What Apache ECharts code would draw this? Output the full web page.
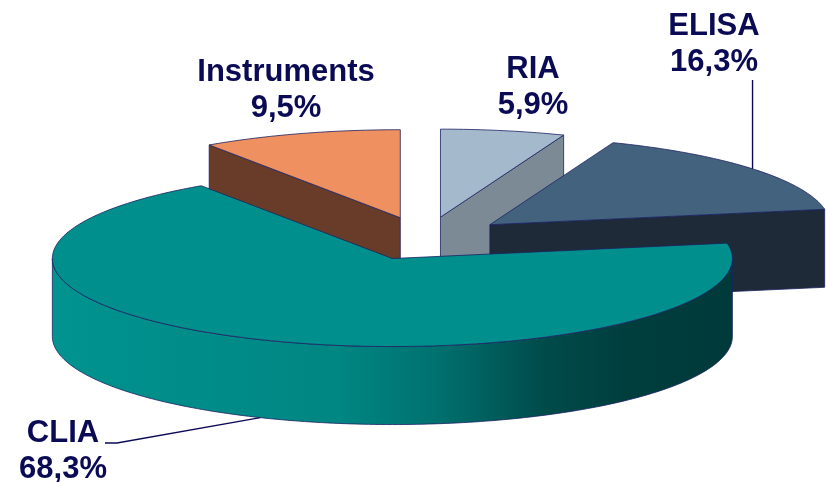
<!DOCTYPE html>
<html><head><meta charset="utf-8">
<script src="https://cdn.jsdelivr.net/npm/echarts@6/dist/echarts.min.js"></script>
<style>html,body{margin:0;padding:0;background:#fff}#c{width:826px;height:482px}</style>
</head><body><div id="c"></div>
<script>
// ---- data ----
const categories = ['RIA', 'ELISA', 'CLIA', 'Instruments'];
const values = [5.9, 16.3, 68.3, 9.5];
const valueLabels = ['5,9%', '16,3%', '68,3%', '9,5%'];

// ---- styles / layout ----
const topColors = ['#A4B9CC', '#42627E', '#008F8C', '#EE9060'];
const sideColors = ['#7B8A95', '#1E2A37', '#008F8C', '#683C28'];
const layerZ = [10, 20, 30, 0];
const labelAnchor = [[533, 69], [714, 26], [63, 433], [286, 72]];
const LINE_GAP = 36.5;
const CX = 425, CY = 238.5, RX = 340, RY = 88, H = 78, EXPLODE = 84;
const TEXT_COLOR = '#0B0B55';
const EDGE = '#1c2262';

const chart = echarts.init(document.getElementById('c'), null, {renderer: 'canvas'});
const RAD = Math.PI / 180;
function pt(cx, cy, deg) { return [cx + RX * Math.sin(deg * RAD), cy - RY * Math.cos(deg * RAD)]; }
function arc(cx, cy, a, b) {
  const n = Math.max(2, Math.ceil(Math.abs(b - a)));
  const pts = [];
  for (let t = 0; t <= n; t++) pts.push(pt(cx, cy, a + (b - a) * t / n));
  return pts;
}

function renderItem(params, api) {
  const i = params.dataIndex;
  const total = values.reduce((a, b) => a + b, 0);
  let start = 0;
  for (let j = 0; j < i; j++) start += values[j] / total * 360;
  const end = start + api.value(0) / total * 360;
  const mid = (start + end) / 2;
  const cx = CX + EXPLODE * Math.sin(mid * RAD);
  const cy = CY - EXPLODE * (RY / RX) * Math.cos(mid * RAD);
  const z = layerZ[i];
  const children = [];
  const edgeStyle = {stroke: EDGE, lineWidth: 0.8};

  // outer curved wall (front half)
  const wa = Math.max(start, 90), wb = Math.min(end, 270);
  if (wb > wa) {
    const top = arc(cx, cy, wa, wb);
    const bot = arc(cx, cy + H, wb, wa);
    children.push({
      type: 'polygon', z2: z + 1,
      shape: {points: top.concat(bot)},
      style: Object.assign({
        fill: {
          type: 'linear', x: 0, y: 0, x2: 1, y2: 0,
          colorStops: [
            {offset: 0, color: '#00938F'},
            {offset: 0.42, color: '#008683'},
            {offset: 0.56, color: '#007270'},
            {offset: 0.72, color: '#004C4B'},
            {offset: 0.85, color: '#003D3D'},
            {offset: 1, color: '#003A3A'}
          ]
        }
      }, edgeStyle)
    });
  }
  // radial cut faces
  function face(deg) {
    const p = pt(cx, cy, deg);
    return {
      type: 'polygon', z2: z + 2,
      shape: {points: [[cx, cy], p, [p[0], p[1] + H], [cx, cy + H]]},
      style: Object.assign({fill: sideColors[i]}, edgeStyle)
    };
  }
  if (Math.sin(start * RAD) < -1e-6) children.push(face(start));
  if (Math.sin(end * RAD) > 1e-6) children.push(face(end));
  // top face
  children.push({
    type: 'polygon', z2: z + 3,
    shape: {points: [[cx, cy]].concat(arc(cx, cy, start, end))},
    style: Object.assign({fill: topColors[i]}, edgeStyle)
  });

  // leader lines
  if (categories[i] === 'ELISA') {
    const p = pt(cx, cy, mid);
    children.push({type: 'polyline', z2: 100, shape: {points: [p, [p[0], 80]]},
      style: {stroke: TEXT_COLOR, lineWidth: 1.4, fill: null}});
  }
  if (categories[i] === 'CLIA') {
    const p = pt(cx, cy + H, mid);
    children.push({type: 'polyline', z2: 100, shape: {points: [p, [117, 443], [105, 443]]},
      style: {stroke: TEXT_COLOR, lineWidth: 1.4, fill: null}});
  }
  // labels
  const [lx, ly] = labelAnchor[i];
  const font = 'bold 31px "Liberation Sans", Arial, sans-serif';
  children.push({type: 'text', z2: 110, style: {text: categories[i], x: lx, y: ly,
    fill: TEXT_COLOR, font: font, align: 'center', verticalAlign: 'middle'}});
  children.push({type: 'text', z2: 110, style: {text: valueLabels[i], x: lx, y: ly + LINE_GAP,
    fill: TEXT_COLOR, font: font, align: 'center', verticalAlign: 'middle'}});

  return {type: 'group', children: children};
}

chart.setOption({
  animation: false,
  backgroundColor: '#ffffff',
  series: [{
    type: 'custom',
    coordinateSystem: 'none',
    renderItem: renderItem,
    data: values.map((v, i) => ({name: categories[i], value: [v]}))
  }]
});
</script></body></html>
